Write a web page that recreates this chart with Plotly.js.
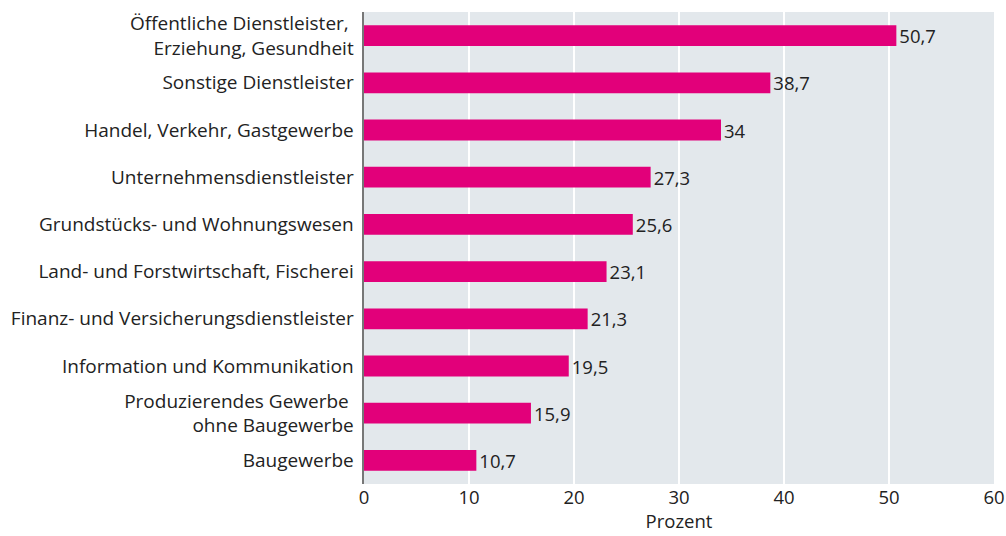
<!DOCTYPE html>
<html>
<head>
<meta charset="utf-8">
<script src="https://cdn.plot.ly/plotly-3.0.1.min.js"></script>
<style>html,body{margin:0;padding:0;background:#fff;}#chart{width:1006px;height:536px;}</style>
</head>
<body>
<div id="chart"></div>
<script>
const categories = [
  "Öffentliche Dienstleister, <br>Erziehung, Gesundheit",
  "Sonstige Dienstleister",
  "Handel, Verkehr, Gastgewerbe",
  "Unternehmensdienstleister",
  "Grundstücks- und Wohnungswesen",
  "Land- und Forstwirtschaft, Fischerei",
  "Finanz- und Versicherungsdienstleister",
  "Information und Kommunikation",
  "Produzierendes Gewerbe <br>ohne Baugewerbe",
  "Baugewerbe"
];
const values = [50.7, 38.7, 34, 27.3, 25.6, 23.1, 21.3, 19.5, 15.9, 10.7];
const xTicks = [0, 10, 20, 30, 40, 50, 60];

const labels = values.map(v => String(v).replace('.', ','));
const FONT = "'Open Sans', sans-serif";
const FS = 19;

Plotly.newPlot('chart', [{
  type: 'bar',
  orientation: 'h',
  x: values,
  y: categories,
  text: labels,
  textposition: 'outside',
  constraintext: 'none',
  cliponaxis: false,
  textfont: {family: FONT, size: 18.5, color: '#222'},
  marker: {color: '#e2007a'},
  hoverinfo: 'none'
}], {
  width: 1006, height: 536,
  margin: {l: 364, r: 12, t: 12, b: 52, pad: 0},
  paper_bgcolor: '#ffffff',
  plot_bgcolor: '#e3e8ec',
  bargap: 0.56,
  showlegend: false,
  font: {family: FONT, size: FS, color: '#222'},
  xaxis: {
    range: [0, 60],
    tickvals: xTicks,
    ticktext: xTicks.map(String),
    showgrid: true, gridcolor: '#ffffff', gridwidth: 2.5,
    zeroline: false,
    showline: false,
    ticks: '', 
    tickfont: {family: FONT, size: 18.5, color: '#222'},
    title: {text: 'Prozent', font: {family: FONT, size: 18.5, color: '#222'}, standoff: 0},
    fixedrange: true
  },
  yaxis: {
    autorange: 'reversed',
    showgrid: false,
    zeroline: false,
    showline: true, linecolor: '#777', linewidth: 2.5,
    ticks: 'outside', ticklen: 4, tickcolor: 'rgba(0,0,0,0)',
    tickfont: {family: FONT, size: FS, color: '#222'},
    fixedrange: true
  }
}, {displayModeBar: false, staticPlot: true});
</script>
</body>
</html>
